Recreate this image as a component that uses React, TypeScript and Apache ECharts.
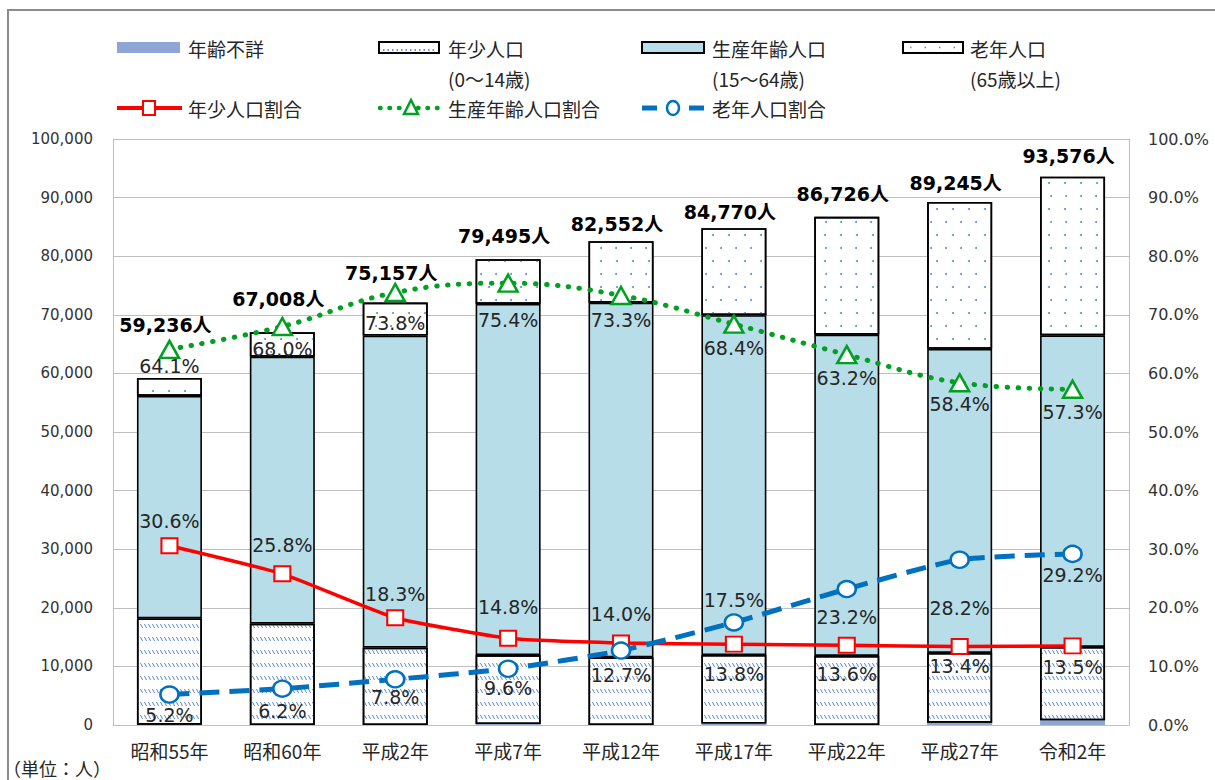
import React, { useEffect, useRef } from 'react';
import * as echarts from 'echarts';

const categories = ['昭和55年', '昭和60年', '平成2年', '平成7年', '平成12年', '平成17年', '平成22年', '平成27年', '令和2年'];
const unknownPop = [60, 0, 0, 160, 0, 250, 0, 400, 800];
const youngPop = [18126, 17288, 13200, 11765, 11557, 11698, 11795, 11905, 12525];
const workingPop = [37970, 45565, 53250, 59939, 60511, 57983, 54811, 51886, 53161];
const oldPop = [3080, 4155, 5630, 7632, 10484, 14835, 20120, 25054, 27091];
const totalLabels = ['59,236', '67,008', '75,157', '79,495', '82,552', '84,770', '86,726', '89,245', '93,576'];
const youngPct = [30.6, 25.8, 18.3, 14.8, 14.0, 13.8, 13.6, 13.4, 13.5];
const workingPct = [64.1, 68.0, 73.8, 75.4, 73.3, 68.4, 63.2, 58.4, 57.3];
const oldPct = [5.2, 6.2, 7.8, 9.6, 12.7, 17.5, 23.2, 28.2, 29.2];

// label placement (styling only)
const totalLift = [38, 19, 15, 9, 3, 2, 8, 5, 6];
const youngLabelDy = [-25, -29, -24, -31, -29, 30, 29, 20, 21];
const workingLabelDy = [17, 22, 30, 37, 25, 24, 23, 21, 23];
const oldLabelDy = [20, 22, 18, 19, 24, -22, 28, 48, 21];

const CJK = '"Noto Sans CJK JP", sans-serif';
const NUM = '"DejaVu Sans", "Noto Sans CJK JP", sans-serif';
const TXT = '#262626';

export default function App() {
  const ref = useRef<HTMLDivElement>(null);
  useEffect(() => {
    if (!ref.current) return;
    const chart = echarts.init(ref.current, null, { renderer: 'svg' });

    const pctLabel = (dy: number) => ({
      show: true,
      position: 'inside',
      offset: [0, dy],
      formatter: (p: any) => Number(p.value).toFixed(1) + '%',
      fontFamily: NUM,
      fontSize: 19,
      color: TXT,
    });

    const barBorder = { borderColor: '#000', borderWidth: 1.6 };

    const option: any = {
      animation: false,
      backgroundColor: '#fff',
      textStyle: { fontFamily: CJK },
      grid: { left: 113, right: 86, top: 139, bottom: 55 },
      xAxis: {
        type: 'category',
        data: categories,
        axisTick: { show: false },
        axisLine: { lineStyle: { color: '#BFBFBF', width: 1 } },
        axisLabel: { fontFamily: CJK, fontSize: 19, color: TXT, margin: 16 },
      },
      yAxis: [
        {
          type: 'value',
          min: 0,
          max: 100000,
          interval: 10000,
          axisLine: { show: true, lineStyle: { color: '#BFBFBF' } },
          axisTick: { show: false },
          splitLine: { lineStyle: { color: '#BFBFBF', width: 1 } },
          axisLabel: {
            fontFamily: NUM,
            fontSize: 15,
            color: '#333',
            margin: 20,
            formatter: (v: number) => v.toLocaleString('en-US'),
          },
        },
        {
          type: 'value',
          min: 0,
          max: 100,
          interval: 10,
          axisLine: { show: true, lineStyle: { color: '#BFBFBF' } },
          axisTick: { show: false },
          splitLine: { show: false },
          axisLabel: {
            fontFamily: NUM,
            fontSize: 16,
            color: '#333',
            margin: 19,
            formatter: (v: number) => v.toFixed(1) + '%',
          },
        },
      ],
      series: [
        {
          name: '年齢不詳',
          type: 'bar',
          stack: 'pop',
          barWidth: 65,
          data: unknownPop,
          itemStyle: { color: '#8EA5D6' },
          z: 2,
        },
        {
          name: '年少人口',
          type: 'bar',
          stack: 'pop',
          barWidth: 65,
          data: youngPop,
          itemStyle: {
            color: '#fff',
            ...barBorder,
            decal: {
              symbol: 'path://M0,0L1.2,0L4,4L2.8,4Z',
              symbolSize: 1,
              symbolKeepAspect: false,
              color: '#4A7CC8',
              dashArrayX: [[3, 1]],
              dashArrayY: [4, 9],
            },
          },
          z: 2,
        },
        {
          name: '生産年齢人口',
          type: 'bar',
          stack: 'pop',
          barWidth: 65,
          data: workingPop,
          itemStyle: { color: '#B7DDE8', ...barBorder },
          z: 2,
        },
        {
          name: '老年人口',
          type: 'bar',
          stack: 'pop',
          barWidth: 65,
          data: oldPop.map((v, i) => ({
            value: v,
            label: { offset: [-4, -totalLift[i]] },
          })),
          itemStyle: {
            color: '#fff',
            ...barBorder,
            decal: {
              symbol: 'circle',
              symbolSize: 1,
              color: '#5B8FD2',
              dashArrayX: [[2, 13], [0, 7.5, 2, 5.5]],
              dashArrayY: [2, 11],
            },
          },
          label: {
            show: true,
            position: 'top',
            distance: 5,
            formatter: (p: any) => totalLabels[p.dataIndex] + '人',
            fontFamily: NUM,
            fontWeight: 'bold',
            fontSize: 19,
            color: '#000',
          },
          z: 2,
        },
        {
          name: '年少人口割合',
          type: 'line',
          yAxisIndex: 1,
          smooth: 0.15,
          data: youngPct.map((v, i) => ({ value: v, label: pctLabel(youngLabelDy[i]) })),
          lineStyle: { color: '#FF0000', width: 3.5 },
          symbol: 'rect',
          symbolSize: [16, 15],
          itemStyle: { color: '#fff', borderColor: '#FF0000', borderWidth: 2 },
          z: 5,
        },
        {
          name: '生産年齢人口割合',
          type: 'line',
          yAxisIndex: 1,
          smooth: 0.4,
          data: workingPct.map((v, i) => ({ value: v, label: pctLabel(workingLabelDy[i]) })),
          lineStyle: { color: '#00A020', width: 5, type: [0.5, 10.5], cap: 'round' },
          symbol: 'triangle',
          symbolSize: [19, 17],
          itemStyle: { color: '#fff', borderColor: '#00A020', borderWidth: 2.5 },
          z: 5,
        },
        {
          name: '老年人口割合',
          type: 'line',
          yAxisIndex: 1,
          smooth: 0.2,
          data: oldPct.map((v, i) => ({ value: v, label: pctLabel(oldLabelDy[i]) })),
          lineStyle: { color: '#0070C0', width: 5, type: [20, 10] },
          symbol: 'circle',
          symbolSize: [18, 16],
          itemStyle: { color: '#fff', borderColor: '#0070C0', borderWidth: 2.5 },
          z: 5,
        },
      ],
      graphic: [
        {
          type: 'rect',
          silent: true,
          shape: { x: 8, y: 10, width: 1400, height: 1000 },
          style: { fill: 'none', stroke: '#8C8C8C', lineWidth: 2 },
          z: 0,
        },
        // legend row 1
        { type: 'rect', shape: { x: 117, y: 42, width: 63, height: 11 }, style: { fill: '#8EA5D6' } },
        { type: 'text', x: 188, y: 48, style: { text: '年齢不詳', font: '19px ' + CJK, fill: TXT, textVerticalAlign: 'middle' } },
        { type: 'rect', shape: { x: 379, y: 42, width: 60, height: 11 }, style: { fill: '#fff', stroke: '#000', lineWidth: 2 } },
        { type: 'line', shape: { x1: 383, y1: 50, x2: 436, y2: 50 }, style: { stroke: '#3F74C6', lineWidth: 1.5, lineDash: [1.5, 3] } },
        { type: 'text', x: 448, y: 48, style: { text: '年少人口', font: '19px ' + CJK, fill: TXT, textVerticalAlign: 'middle' } },
        { type: 'text', x: 448, y: 78, style: { text: '(0～14歳)', font: '19px ' + CJK, fill: TXT, textVerticalAlign: 'middle' } },
        { type: 'rect', shape: { x: 642, y: 42, width: 62, height: 11 }, style: { fill: '#B7DDE8', stroke: '#000', lineWidth: 2 } },
        { type: 'text', x: 712, y: 48, style: { text: '生産年齢人口', font: '19px ' + CJK, fill: TXT, textVerticalAlign: 'middle' } },
        { type: 'text', x: 712, y: 78, style: { text: '(15～64歳)', font: '19px ' + CJK, fill: TXT, textVerticalAlign: 'middle' } },
        { type: 'rect', shape: { x: 903, y: 42, width: 60, height: 11 }, style: { fill: '#fff', stroke: '#000', lineWidth: 2 } },
        { type: 'line', shape: { x1: 910, y1: 47.5, x2: 958, y2: 47.5 }, style: { stroke: '#5B8FD2', lineWidth: 1.5, lineDash: [1.5, 13] } },
        { type: 'text', x: 970, y: 48, style: { text: '老年人口', font: '19px ' + CJK, fill: TXT, textVerticalAlign: 'middle' } },
        { type: 'text', x: 970, y: 78, style: { text: '(65歳以上)', font: '19px ' + CJK, fill: TXT, textVerticalAlign: 'middle' } },
        // legend row 2
        { type: 'line', shape: { x1: 117, y1: 108, x2: 182, y2: 108 }, style: { stroke: '#FF0000', lineWidth: 4 } },
        { type: 'rect', shape: { x: 143, y: 101, width: 12, height: 14 }, style: { fill: '#fff', stroke: '#FF0000', lineWidth: 2 } },
        { type: 'text', x: 188, y: 108, style: { text: '年少人口割合', font: '19px ' + CJK, fill: TXT, textVerticalAlign: 'middle' } },
        { type: 'line', shape: { x1: 380, y1: 108, x2: 441, y2: 108 }, style: { stroke: '#00A020', lineWidth: 4.5, lineDash: [0.5, 9], lineCap: 'round' } },
        { type: 'polygon', shape: { points: [[411, 100], [404, 114], [418, 114]] }, style: { fill: '#fff', stroke: '#00A020', lineWidth: 2.5 } },
        { type: 'text', x: 448, y: 108, style: { text: '生産年齢人口割合', font: '19px ' + CJK, fill: TXT, textVerticalAlign: 'middle' } },
        { type: 'line', shape: { x1: 642, y1: 108, x2: 657, y2: 108 }, style: { stroke: '#0070C0', lineWidth: 5 } },
        { type: 'line', shape: { x1: 689, y1: 108, x2: 704, y2: 108 }, style: { stroke: '#0070C0', lineWidth: 5 } },
        { type: 'ellipse', shape: { cx: 673, cy: 108, rx: 6, ry: 7 }, style: { fill: '#fff', stroke: '#0070C0', lineWidth: 2.5 } },
        { type: 'text', x: 712, y: 108, style: { text: '老年人口割合', font: '19px ' + CJK, fill: TXT, textVerticalAlign: 'middle' } },
        // unit
        { type: 'text', x: 3, y: 768, style: { text: '（単位：人）', font: '18px ' + CJK, fill: TXT, textVerticalAlign: 'middle' } },
      ],
    };
    chart.setOption(option);
    return () => chart.dispose();
  }, []);

  return (
    <div
      ref={ref}
      style={{ position: 'absolute', left: 0, top: 0, width: 1215, height: 780, background: '#fff' }}
    />
  );
}
